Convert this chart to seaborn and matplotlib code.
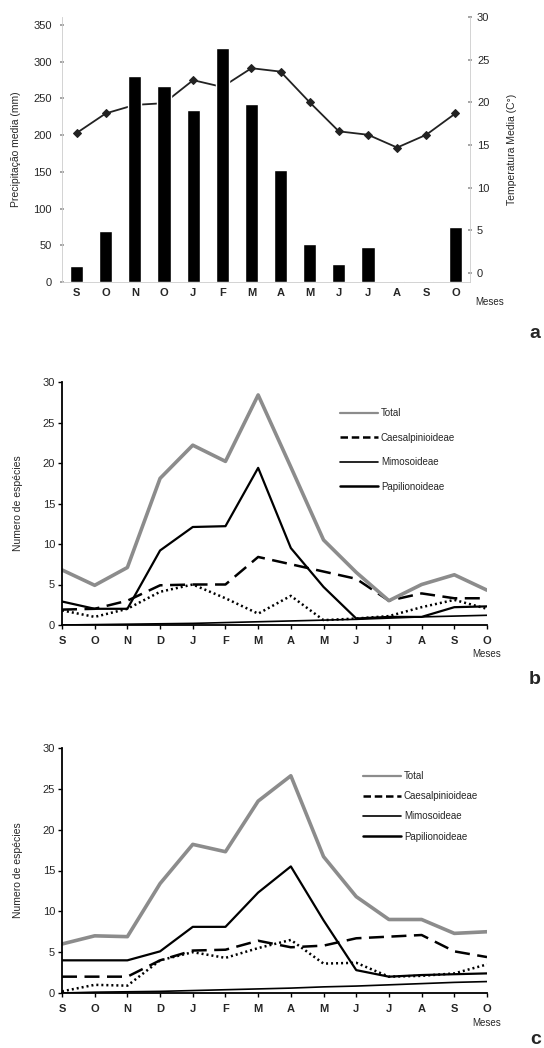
import numpy as np
import pandas as pd
import matplotlib
matplotlib.use("Agg")
import matplotlib.pyplot as plt
from matplotlib.lines import Line2D
import seaborn as sns

sns.set_theme(style="white")
plt.rcParams['font.family'] = ['Liberation Sans', 'DejaVu Sans']

# panel a - precipitacao e temperatura
meses_a = ["S", "O", "N", "O", "J", "F", "M", "A", "M", "J", "J", "A", "S", "O"]
precipitacao = [22, 70, 280, 267, 234, 318, 243, 152, 52, 24, 47, 1, 2, 75]
temperatura = [16.4, 18.7, 19.7, 19.9, 22.6, 21.8, 24.0, 23.6, 20.0, 16.6, 16.2, 14.7, 16.2, 18.7]

# panels b and c - numero de especies
meses = ["S", "O", "N", "D", "J", "F", "M", "A", "M", "J", "J", "A", "S", "O"]

b_total = [6.8, 4.9, 7.1, 18.1, 22.2, 20.2, 28.4, 19.5, 10.5, 6.5, 3.0, 5.0, 6.2, 4.3]
b_caesalp = [1.9, 2.0, 3.0, 4.9, 5.0, 5.0, 8.4, 7.5, 6.6, 5.7, 3.0, 3.9, 3.3, 3.3]
b_papil = [2.9, 2.0, 2.0, 9.2, 12.1, 12.2, 19.4, 9.5, 4.7, 0.8, 1.0, 1.0, 2.2, 2.3]
b_mimos = [1.8, 1.0, 2.0, 4.1, 5.0, 3.3, 1.4, 3.6, 0.6, 0.8, 1.1, 2.2, 3.1, 2.0]
b_base = [0.0, 0.05, 0.1, 0.15, 0.2, 0.3, 0.4, 0.5, 0.6, 0.7, 0.85, 1.0, 1.1, 1.2]

c_total = [6.0, 7.0, 6.9, 13.4, 18.2, 17.3, 23.5, 26.6, 16.7, 11.8, 9.0, 9.0, 7.3, 7.5]
c_caesalp = [2.0, 2.0, 2.0, 4.0, 5.2, 5.3, 6.4, 5.6, 5.8, 6.7, 6.9, 7.1, 5.1, 4.4]
c_papil = [4.0, 4.0, 4.0, 5.1, 8.1, 8.1, 12.3, 15.5, 8.9, 2.8, 2.0, 2.2, 2.3, 2.4]
c_mimos = [0.2, 1.0, 0.9, 4.0, 5.0, 4.3, 5.5, 6.5, 3.6, 3.7, 2.0, 2.1, 2.4, 3.5]
c_base = [0.0, 0.1, 0.15, 0.2, 0.3, 0.4, 0.5, 0.6, 0.75, 0.85, 1.0, 1.15, 1.3, 1.4]

W, H = 544, 1048
fig = plt.figure(figsize=(W / 100, H / 100), dpi=100)
fig.patch.set_facecolor("white")


def box(x0, y0, x1, y1):
    return [x0 / W, 1 - y1 / H, (x1 - x0) / W, (y1 - y0) / H]


# ---------- panel a ----------
ax = fig.add_axes(box(62, 17, 470, 282))
ax2 = ax.twinx()
pos = np.arange(len(meses_a))
df_a = pd.DataFrame({"pos": pos, "prec": precipitacao, "temp": temperatura})

sns.barplot(data=df_a, x="pos", y="prec", color="black", width=0.45,
            saturation=1, ax=ax, zorder=3)
sns.lineplot(data=df_a, x="pos", y="temp", color="#222222", lw=1.3,
             marker="D", markersize=4.5, markeredgecolor="#222222", ax=ax2)
# line passes behind the bars
ax2.set_zorder(ax.get_zorder() - 1)
ax.patch.set_visible(False)

ax.set_xlim(-0.5, 13.5)
ax.set_ylim(0, 350 * 265 / 257)
ax2.set_ylim(-30 * 9 / 256, 30)
ax.set_yticks(range(0, 351, 50))
ax2.set_yticks(range(0, 31, 5))
ax.set_xticks(pos)
ax.set_xticklabels(meses_a, fontsize=8, fontweight="bold")
ax.set_xticks(np.arange(-0.5, 13.6, 1), minor=True)
ax.tick_params(axis="x", which="major", length=0, pad=4)
ax.tick_params(axis="x", which="minor", length=3, direction="inout", color="#999999")
ax.tick_params(axis="y", labelsize=8, length=3, direction="inout", color="#999999", pad=6)
ax2.tick_params(axis="y", labelsize=8, length=3, direction="inout", color="#999999")
ax.set_xlabel("")
ax.set_ylabel("Precipitação media (mm)", fontsize=7.5, labelpad=9)
ax2.set_ylabel("Temperatura Media (C°)", fontsize=7.5, labelpad=13)
for a_ in (ax, ax2):
    for s in ("top", "left", "right", "bottom"):
        a_.spines[s].set_color("#cccccc")
        a_.spines[s].set_linewidth(0.6)
    a_.spines["top"].set_visible(False)
ax.spines["right"].set_visible(False)
ax2.spines["left"].set_visible(False)
ax2.spines["bottom"].set_visible(False)
fig.text(490 / W, 1 - 302 / H, "Meses", fontsize=7, ha="center", va="center")
fig.text(535 / W, 1 - 333 / H, "a", fontsize=14, fontweight="bold", ha="center", va="center")


# ---------- panels b and c ----------
def painel(rect, total, caesalp, papil, mimos, base, leg_xy, spacing, letra, letra_xy, meses_y):
    axp = fig.add_axes(rect)
    x = np.arange(len(meses))
    df = pd.DataFrame({"x": x, "total": total, "caesalp": caesalp,
                       "papil": papil, "mimos": mimos, "base": base})
    sns.lineplot(data=df, x="x", y="base", color="black", lw=1.2, ax=axp)
    sns.lineplot(data=df, x="x", y="mimos", color="black", lw=1.8, ax=axp,
                 linestyle=(0, (0.8, 1.2)))
    sns.lineplot(data=df, x="x", y="caesalp", color="black", lw=1.8, ax=axp,
                 linestyle=(0, (6, 3)))
    sns.lineplot(data=df, x="x", y="papil", color="black", lw=1.6, ax=axp)
    sns.lineplot(data=df, x="x", y="total", color="#8c8c8c", lw=2.6, ax=axp)
    axp.set_xlim(0, 13)
    axp.set_ylim(0, 30)
    axp.set_yticks(range(0, 31, 5))
    axp.set_xticks(x)
    axp.set_xticklabels(meses, fontsize=8, fontweight="bold")
    axp.tick_params(axis="x", length=3, direction="out", pad=5, color="black", width=1)
    axp.tick_params(axis="y", labelsize=8, length=3, direction="out", pad=2, color="black", width=1)
    axp.tick_params(axis="both", bottom=True, left=True)
    for s in ("top", "right"):
        axp.spines[s].set_visible(False)
    for s in ("left", "bottom"):
        axp.spines[s].set_color("black")
        axp.spines[s].set_linewidth(1.3)
    axp.set_xlabel("")
    axp.set_ylabel("Numero de espécies", fontsize=7.5, labelpad=14)

    handles = [
        Line2D([], [], color="#8c8c8c", lw=1.6),
        Line2D([], [], color="black", lw=1.8, linestyle=(0, (3, 1.5))),
        Line2D([], [], color="black", lw=1.2),
        Line2D([], [], color="black", lw=1.8),
    ]
    labels = ["Total", "Caesalpinioideae", "Mimosoideae", "Papilionoideae"]
    axp.legend(handles, labels, loc="upper left", frameon=False, fontsize=7,
               bbox_to_anchor=(leg_xy[0] / W, 1 - leg_xy[1] / H),
               bbox_transform=fig.transFigure, borderpad=0, borderaxespad=0,
               handlelength=3.9, handletextpad=0.3, labelspacing=spacing)
    fig.text(487 / W, 1 - meses_y / H, "Meses", fontsize=7, ha="center", va="center")
    fig.text(letra_xy[0] / W, 1 - letra_xy[1] / H, letra, fontsize=14,
             fontweight="bold", ha="center", va="center")


painel(box(62, 382, 487, 625), b_total, b_caesalp, b_papil, b_mimos, b_base,
       (340, 408), 1.5, "b", (535, 680), 654)
painel(box(62, 748, 487, 993), c_total, c_caesalp, c_papil, c_mimos, c_base,
       (363, 771), 1.05, "c", (536, 1039), 1023)

fig.savefig("out.png", dpi=100, facecolor="white")
